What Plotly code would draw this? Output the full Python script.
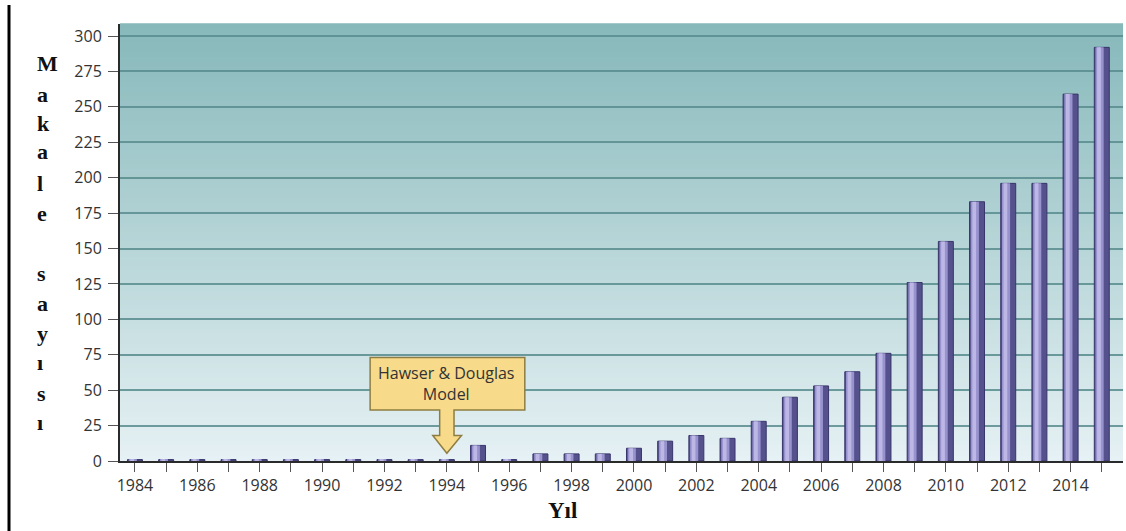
import plotly.graph_objects as go

# Publications per year
years = list(range(1984, 2016))
counts = [1, 1, 1, 1, 1, 1, 1, 1, 1, 1, 1,
          11, 1, 5, 5, 5, 9, 14, 18, 16, 28,
          45, 53, 63, 76, 126, 155, 183, 196, 196, 259, 292]

year_labels = [str(y) if y % 2 == 0 else "" for y in years]
y_ticks = list(range(0, 301, 25))

y_title_letters = ["M", "a", "k", "a", "l", "e", "", "s", "a", "y", "ı", "s", "ı"]
x_title = "Yıl"
callout_text = "Hawser & Douglas<br>Model"
callout_year = 1994

W, H = 1126, 531
ML, MR, MT, MB = 120, 3, 24, 70
PW, PH = W - ML - MR, H - MT - MB


def px_to_paper_x(px):
    return (px - ML) / PW


def py_to_paper_y(py):
    return (H - MB - py) / PH


fig = go.Figure()

# Cylinder-like shading: dark body, lighter band, highlight
fig.add_trace(go.Bar(x=years, y=counts, width=0.48, offset=-0.24,
                     marker=dict(color="#55518d", line=dict(color="#38356a", width=1)),
                     hoverinfo="x+y"))
fig.add_trace(go.Bar(x=years, y=counts, width=0.26, offset=-0.2,
                     marker=dict(color="#9893ce", line=dict(width=0)),
                     hoverinfo="skip"))
fig.add_trace(go.Bar(x=years, y=counts, width=0.12, offset=-0.15,
                     marker=dict(color="#bcb7e5", line=dict(width=0)),
                     hoverinfo="skip"))

shapes = []
# Vertical gradient behind the plot area
top_rgb = (134, 184, 186)
bot_rgb = (230, 241, 244)
n = 90
for i in range(n):
    t0, t1 = i / n, (i + 1) / n
    f = (i + 0.5) / n
    c = tuple(round(top_rgb[k] * (1 - f) + bot_rgb[k] * f) for k in range(3))
    shapes.append(dict(type="rect", xref="paper", yref="paper",
                       x0=0, x1=1, y0=1 - t1, y1=1 - t0 + 0.002,
                       fillcolor="rgb(%d,%d,%d)" % c, line=dict(width=0),
                       layer="below"))

# Left border rule of the page
shapes.append(dict(type="line", xref="paper", yref="paper",
                   x0=px_to_paper_x(9), x1=px_to_paper_x(9),
                   y0=py_to_paper_y(5), y1=py_to_paper_y(531),
                   line=dict(color="black", width=3)))

# Callout box with block arrow pointing at the model year
bx0, bx1 = callout_year - 2.46, callout_year + 2.5
by0, by1 = 36, 73
sx0, sx1 = callout_year - 0.23, callout_year + 0.23
hx0, hx1 = callout_year - 0.45, callout_year + 0.47
hy, tip = 18, 5.5
path = (f"M {bx0},{by1} L {bx1},{by1} L {bx1},{by0} L {sx1},{by0} "
        f"L {sx1},{hy} L {hx1},{hy} L {callout_year},{tip} L {hx0},{hy} "
        f"L {sx0},{hy} L {sx0},{by0} L {bx0},{by0} Z")
shapes.append(dict(type="path", xref="x", yref="y", path=path,
                   fillcolor="#f7da8a", line=dict(color="#8e7d42", width=1.5),
                   layer="above"))

annotations = [dict(x=callout_year, y=(by0 + by1) / 2, xref="x", yref="y",
                    text=callout_text, showarrow=False,
                    font=dict(family="Open Sans", size=16, color="#333333"),
                    align="center")]

letter_y = [63, 94, 123, 152, 183, 213, 243, 273, 303, 333, 362, 393, 422]
for ch, ypx in zip(y_title_letters, letter_y):
    if not ch:
        continue
    annotations.append(dict(x=px_to_paper_x(35), y=py_to_paper_y(ypx),
                            xref="paper", yref="paper", xanchor="left",
                            yanchor="middle", text="<b>%s</b>" % ch,
                            showarrow=False,
                            font=dict(family="Liberation Serif", size=22,
                                      color="#111111")))

annotations.append(dict(x=px_to_paper_x(562), y=py_to_paper_y(510),
                        xref="paper", yref="paper", xanchor="center",
                        yanchor="middle", text="<b>%s</b>" % x_title,
                        showarrow=False,
                        font=dict(family="Liberation Serif", size=23,
                                  color="#111111")))

fig.update_layout(
    width=W, height=H,
    margin=dict(l=ML, r=MR, t=MT, b=MB),
    paper_bgcolor="white",
    plot_bgcolor="rgba(0,0,0,0)",
    barmode="overlay",
    showlegend=False,
    shapes=shapes,
    annotations=annotations,
    xaxis=dict(range=[1983.52, 2015.68], tickvals=years, ticktext=year_labels,
               ticks="outside", ticklen=9, tickwidth=1, tickcolor="#555",
               showgrid=False, zeroline=False,
               showline=True, linecolor="#2a2a2a", linewidth=2,
               tickfont=dict(family="Open Sans", size=16, color="#333333")),
    yaxis=dict(range=[0, 308.5], tickvals=y_ticks,
               ticks="outside", ticklen=10, tickwidth=1, tickcolor="#555",
               ticklabelstandoff=3,
               showgrid=True, gridcolor="rgba(88,140,142,0.85)", gridwidth=1.5,
               zeroline=False,
               showline=True, linecolor="#2a2a2a", linewidth=2,
               tickfont=dict(family="Open Sans", size=16, color="#333333")),
)

fig.write_html("out.html")
